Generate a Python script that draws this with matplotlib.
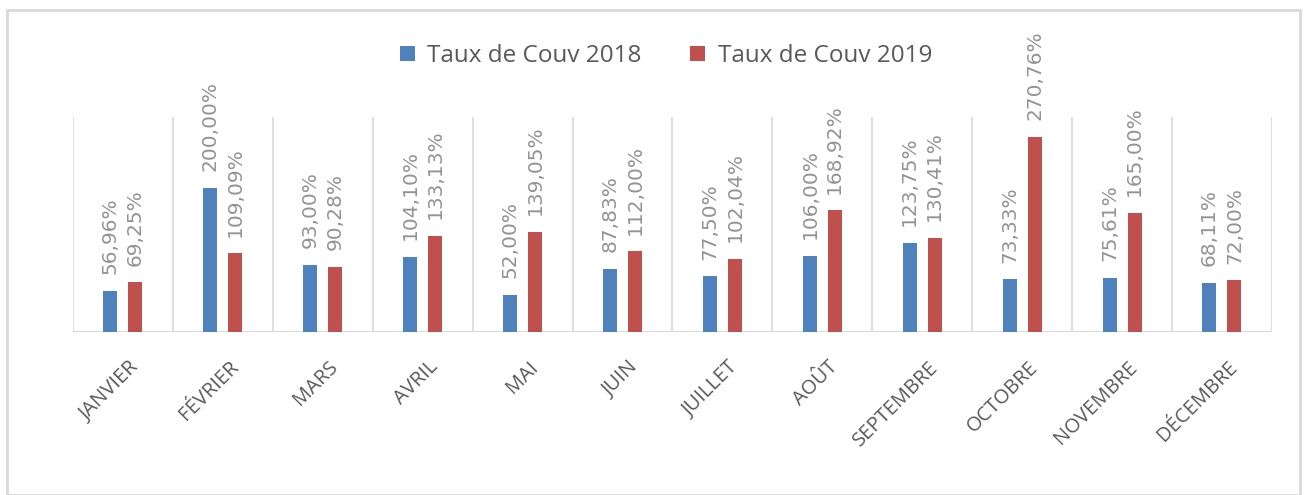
import matplotlib.pyplot as plt
import numpy as np
from matplotlib.patches import Rectangle

mois = ["JANVIER", "FÉVRIER", "MARS", "AVRIL", "MAI", "JUIN", "JUILLET",
        "AOÛT", "SEPTEMBRE", "OCTOBRE", "NOVEMBRE", "DÉCEMBRE"]
taux_2018 = [56.96, 200.00, 93.00, 104.10, 52.00, 87.83, 77.50,
             106.00, 123.75, 73.33, 75.61, 68.11]
taux_2019 = [69.25, 109.09, 90.28, 133.13, 139.05, 112.00, 102.04,
             168.92, 130.41, 270.76, 165.00, 72.00]

bleu = "#4F81BD"
rouge = "#C0504D"
grille = "#D9D9D9"

fig = plt.figure(figsize=(13.06, 4.95), dpi=100)
ax = fig.add_axes([0.0559, 0.329, 0.918, 0.435])

x = np.arange(len(mois))
w = 0.14
b1 = ax.bar(x - 0.125, taux_2018, w, color=bleu, label="Taux de Couv 2018", zorder=3)
b2 = ax.bar(x + 0.125, taux_2019, w, color=rouge, label="Taux de Couv 2019", zorder=3)

def fmt(v):
    return f"{v:.2f}%".replace(".", ",")

for bars, vals in [(b1, taux_2018), (b2, taux_2019)]:
    for rect, v in zip(bars, vals):
        ax.annotate(fmt(v), (rect.get_x() + rect.get_width() / 2, rect.get_height()),
                    xytext=(0, 12), textcoords="offset points", rotation=90,
                    ha="center", va="bottom", fontsize=14.5, color="#939393",
                    annotation_clip=False)

ax.set_xlim(-0.5, len(mois) - 0.5)
ax.set_ylim(0, 298.5)

# separateurs verticaux entre les mois
for b in np.arange(-0.5, len(mois), 1.0):
    ax.axvline(b, color=grille, lw=1.2, zorder=1)
ax.axhline(0, color=grille, lw=1.5, zorder=2)

for s in ax.spines.values():
    s.set_visible(False)
ax.set_yticks([])
ax.set_xticks(x)
ax.set_xticklabels([])
ax.tick_params(axis="x", length=0)

for xi, m in zip(x, mois):
    ax.annotate(m, (xi, 0), xytext=(4, -18), textcoords="offset points",
                rotation=45, rotation_mode="anchor", ha="right", va="top",
                fontsize=14.5, color="#595959", family="Open Sans",
                annotation_clip=False)

leg = fig.legend(handles=[b1, b2], loc="center", bbox_to_anchor=(0.51, 0.887),
                 ncol=2, frameon=False, handlelength=0.62, handleheight=0.62,
                 handletextpad=0.5, columnspacing=2.0,
                 prop={"family": "Open Sans", "size": 17.5})
for t in leg.get_texts():
    t.set_color("#595959")

# cadre du graphique
fig.patches.append(Rectangle((7 / 1306, 0.0), 1293 / 1306, 485 / 495,
                             transform=fig.transFigure, fill=False,
                             edgecolor=grille, lw=2))

fig.savefig("out.png", dpi=100)
